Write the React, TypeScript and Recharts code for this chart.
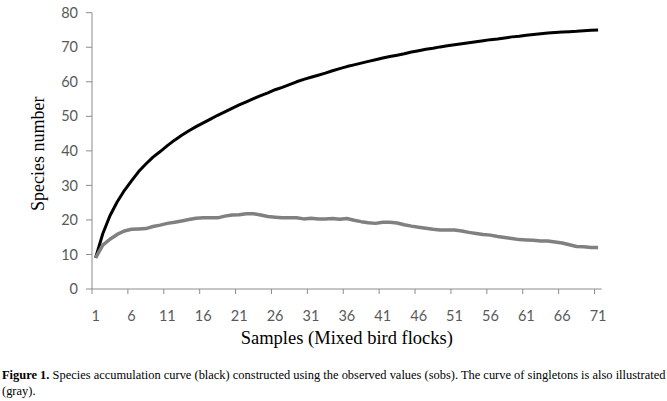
import React from 'react';
import { LineChart, Line, XAxis, YAxis, Label } from 'recharts';

const samples = [
  1, 2, 3, 4, 5, 6, 7, 8, 9, 10, 11, 12, 13, 14, 15, 16, 17, 18, 19, 20,
  21, 22, 23, 24, 25, 26, 27, 28, 29, 30, 31, 32, 33, 34, 35, 36, 37, 38, 39, 40,
  41, 42, 43, 44, 45, 46, 47, 48, 49, 50, 51, 52, 53, 54, 55, 56, 57, 58, 59, 60,
  61, 62, 63, 64, 65, 66, 67, 68, 69, 70, 71,
];

const sobs = [
  9, 16, 21.2, 25.2, 28.5, 31.3, 34, 36.2, 38.2, 39.8,
  41.5, 43.1, 44.5, 45.8, 47, 48.1, 49.2, 50.3, 51.3, 52.3,
  53.3, 54.2, 55.1, 56, 56.8, 57.7, 58.4, 59.2, 60, 60.7,
  61.3, 61.9, 62.5, 63.2, 63.8, 64.4, 64.9, 65.4, 65.9, 66.4,
  66.9, 67.3, 67.7, 68.1, 68.6, 69, 69.4, 69.7, 70.1, 70.4,
  70.7, 71, 71.3, 71.6, 71.9, 72.2, 72.4, 72.7, 73, 73.2,
  73.5, 73.7, 73.9, 74.1, 74.3, 74.4, 74.5, 74.6, 74.8, 74.9,
  75,
];

const singletons = [
  9, 12.7, 14.4, 15.8, 16.8, 17.3, 17.4, 17.5, 18.1, 18.5,
  19, 19.3, 19.7, 20.1, 20.5, 20.6, 20.6, 20.6, 21.1, 21.4,
  21.5, 21.8, 21.8, 21.4, 21, 20.8, 20.6, 20.6, 20.6, 20.3,
  20.5, 20.3, 20.3, 20.4, 20.2, 20.4, 19.9, 19.5, 19.2, 19,
  19.3, 19.3, 19.1, 18.6, 18.2, 17.9, 17.6, 17.3, 17.1, 17.1,
  17.1, 16.8, 16.4, 16.1, 15.8, 15.6, 15.2, 14.9, 14.6, 14.3,
  14.2, 14.1, 13.9, 13.9, 13.6, 13.3, 12.8, 12.3, 12.2, 12,
  12,
];

const xTicks = [1, 6, 11, 16, 21, 26, 31, 36, 41, 46, 51, 56, 61, 66, 71];
const yTicks = [0, 10, 20, 30, 40, 50, 60, 70, 80];

const data = samples.map((s, i) => ({ sample: s, sobs: sobs[i], singletons: singletons[i] }));

const W = 667;
const H = 350;
const margin = { top: 12.7, right: 65.3, bottom: 31, left: 12 };
const Y_AXIS_W = 80;
const plotW = W - margin.left - margin.right - Y_AXIS_W;
const halfCat = plotW / samples.length / 2;

const AXIS = '#8c8c8c';
const TICK_TEXT = '#595959';
const TICK_FONT = 'Lato, "Open Sans", sans-serif';
const SERIF = '"Liberation Serif", "Times New Roman", serif';

const XTick = (props: any) => {
  const { x, y, payload } = props;
  return (
    <g>
      <line x1={x - halfCat} y1={y} x2={x - halfCat} y2={y + 5} stroke={AXIS} strokeWidth={1} />
      <text x={x} y={y + 31.5} textAnchor="middle" fill={TICK_TEXT} fontSize={14.5} fontFamily={TICK_FONT}>
        {payload.value}
      </text>
    </g>
  );
};

export default function App() {
  return (
    <div style={{ position: 'absolute', left: 0, top: 0, width: W, height: 401, background: '#fff' }}>
      <LineChart width={W} height={H} data={data} margin={margin}>
        <XAxis
          dataKey="sample"
          type="number"
          domain={[0.5, 71.5]}
          ticks={xTicks}
          interval={0}
          tickSize={0}
          tickMargin={0}
          tickLine={false}
          tick={<XTick />}
          axisLine={{ stroke: AXIS, strokeWidth: 1 }}
          height={30}
        >
          <Label
            content={(p: any) => {
              const vb = p.viewBox || {};
              return (
                <text
                  x={vb.x + vb.width / 2}
                  y={343.5}
                  textAnchor="middle"
                  style={{ fontFamily: SERIF }}
                  fontSize={18.5}
                  fill="#000"
                >
                  Samples (Mixed bird flocks)
                </text>
              );
            }}
          />
        </XAxis>
        <YAxis
          type="number"
          domain={[0, 80]}
          ticks={yTicks}
          interval={0}
          width={Y_AXIS_W}
          tickSize={6}
          tickMargin={8}
          tickLine={{ stroke: AXIS }}
          axisLine={{ stroke: AXIS, strokeWidth: 1 }}
          tick={{ fill: TICK_TEXT, fontSize: 14.5, fontFamily: TICK_FONT }}
        >
          <Label
            content={(p: any) => {
              const vb = p.viewBox || {};
              const cy = vb.y + vb.height / 2 + 3;
              return (
                <text
                  x={44}
                  y={cy}
                  transform={`rotate(-90, 44, ${cy})`}
                  textAnchor="middle"
                  style={{ fontFamily: SERIF }}
                  fontSize={18}
                  fill="#000"
                >
                  Species number
                </text>
              );
            }}
          />
        </YAxis>
        <Line
          type="linear"
          dataKey="sobs"
          stroke="#000"
          strokeWidth={3}
          dot={false}
          isAnimationActive={false}
          strokeLinejoin="round"
        />
        <Line
          type="linear"
          dataKey="singletons"
          stroke="#808080"
          strokeWidth={3.5}
          dot={false}
          isAnimationActive={false}
          strokeLinejoin="round"
        />
      </LineChart>
      <div
        style={{
          position: 'absolute',
          left: 2,
          top: 367,
          width: 667,
          fontFamily: SERIF,
          fontSize: 12.45,
          lineHeight: '16px',
          color: '#000',
          whiteSpace: 'nowrap',
        }}
      >
        <div>
          <b>Figure 1.</b> Species accumulation curve (black) constructed using the observed values (sobs). The curve of singletons is also illustrated
        </div>
        <div>(gray).</div>
      </div>
    </div>
  );
}
